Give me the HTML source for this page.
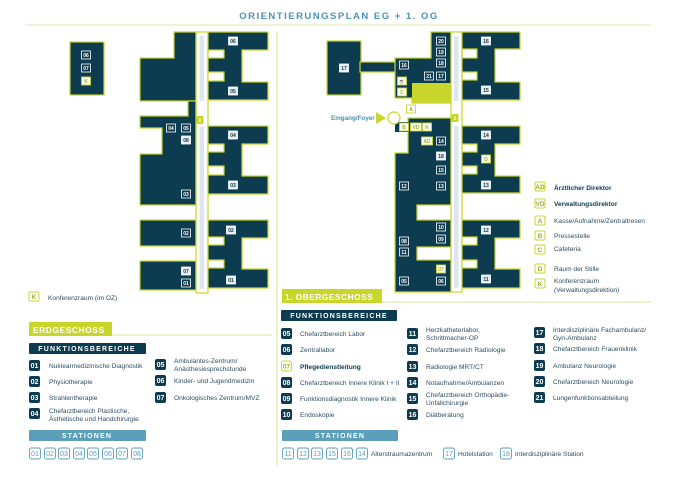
<!DOCTYPE html>
<html><head><meta charset="utf-8"><style>
html,body{margin:0;padding:0;background:#fff}
svg{display:block;font-family:"Liberation Sans",sans-serif}
.d{fill:#0d3b50;stroke:#c8d52b;stroke-width:1.2}
.w{fill:#fff;stroke:#c8d52b;stroke-width:1.2}
.lb rect{fill:none;stroke:#fff;stroke-width:.8}
.lb text{fill:#fff;font-size:5px;text-anchor:middle;font-weight:bold}
.lf rect{fill:#e8eef2;stroke:#fff;stroke-width:.8}
.lf text{fill:#0d3b50;font-size:5px;text-anchor:middle;font-weight:bold}
.ll rect{fill:#fff;stroke:#c8d52b;stroke-width:.9}
.ll text{fill:#9fb020;font-size:5px;text-anchor:middle;font-weight:bold}
.t{fill:#2d4e60;font-size:6.6px}
.b{font-weight:bold;fill:#0d3b50}
.ic rect{fill:#0d3b50}
.ic text{fill:#fff;font-size:7px;font-weight:bold;text-anchor:middle}
.st rect{fill:#fff;stroke:#5b9fbb;stroke-width:.9}
.st text{fill:#5b9fbb;font-size:7px;text-anchor:middle}
.lg rect{fill:#fff;stroke:#c8d52b;stroke-width:1}
.lg text{fill:#9fb020;font-size:6.5px;text-anchor:middle;font-weight:bold}
.hd{fill:#fff;font-size:7px;font-weight:bold;letter-spacing:1.2px;text-anchor:middle}
.hl{stroke:#e3e9a8}
</style></head><body>
<svg width="680" height="481" viewBox="0 0 680 481">
<text x="339" y="19" fill="#4a93b5" font-size="9.5" font-weight="bold" letter-spacing="1.5" text-anchor="middle">ORIENTIERUNGSPLAN EG + 1. OG</text>
<line class="hl" x1="25" y1="25" x2="651" y2="25" stroke-width="1"/>
<line x1="277" y1="31" x2="277" y2="466" stroke="#e3e9a8" stroke-width="1.2"/>

<!-- EG small block -->
<rect class="d" x="70" y="42" width="34" height="53"/>
<g class="lb"><rect x="81.5" y="51" width="9" height="8"/><text x="86" y="57">06</text>
<rect x="81.5" y="64" width="9" height="8"/><text x="86" y="70">07</text></g>
<g class="ll"><rect x="81.5" y="77" width="9" height="8"/><text x="86" y="83">K</text></g>

<!-- EG left building -->
<path class="d" d="M174 32H196V101H140V58H174Z"/>
<path class="d" d="M188 101H196V205H140V154H162V128H140V116H188Z"/>
<rect class="d" x="140" y="220" width="56" height="26"/>
<rect class="d" x="140" y="261" width="56" height="29"/>
<rect x="196" y="32" width="12" height="261" fill="#fff" stroke="#c8d52b" stroke-width="1.2"/>
<rect x="199.5" y="36" width="4.5" height="65" fill="#dde6ee"/>
<rect x="199.5" y="127" width="4.5" height="162" fill="#dde6ee"/>
<rect x="196.5" y="116" width="7" height="8" rx="1" fill="#c8d52b"/><text x="200" y="122" font-size="5" fill="#fff" text-anchor="middle">⇕</text>
<path class="d" d="M208 32H268V50H242V82H268V100H208Z"/>
<rect class="w" x="208" y="50" width="16" height="8"/><rect class="w" x="208" y="72" width="16" height="9"/>
<path class="d" d="M208 126H268V144H242V176H268V194H208Z"/>
<rect class="w" x="208" y="144" width="16" height="8"/><rect class="w" x="208" y="166" width="16" height="9"/>
<path class="d" d="M208 220H268V238H242V269H268V288H208Z"/>
<rect class="w" x="208" y="237" width="16" height="8"/><rect class="w" x="208" y="260" width="16" height="8"/>
<g class="lf"><rect x="228.5" y="37" width="9" height="8"/><text x="233" y="43">06</text>
<rect x="228.5" y="87" width="9" height="8"/><text x="233" y="93">05</text>
<rect x="228.5" y="131" width="9" height="8"/><text x="233" y="137">04</text>
<rect x="228.5" y="181" width="9" height="8"/><text x="233" y="187">03</text>
<rect x="226.5" y="226" width="9" height="8"/><text x="231" y="232">02</text>
<rect x="226.5" y="276" width="9" height="8"/><text x="231" y="282">01</text>
<rect x="181.5" y="136" width="9" height="8"/><text x="186" y="142">08</text>
<rect x="181.5" y="267" width="9" height="8"/><text x="186" y="273">07</text></g>
<g class="lb"><rect x="166.5" y="124" width="9" height="8"/><text x="171" y="130">04</text>
<rect x="181.5" y="124" width="9" height="8"/><text x="186" y="130">05</text>
<rect x="181.5" y="190" width="9" height="8"/><text x="186" y="196">03</text>
<rect x="181.5" y="229" width="9" height="8"/><text x="186" y="235">02</text>
<rect x="181.5" y="279" width="9" height="8"/><text x="186" y="285">01</text></g>

<!-- OG building -->
<rect class="d" x="327" y="41" width="34" height="54"/>
<rect class="d" x="360" y="62" width="36" height="10"/>
<path class="d" d="M431 32H451V103H412V98H395V58H431Z"/>
<rect x="412" y="83" width="39" height="20" fill="#c8d52b"/>
<path class="d" d="M408 118H451V292H395V153H408Z"/>
<rect x="395" y="122" width="14" height="10" fill="#0d3b50"/>
<rect class="w" x="417" y="205" width="35" height="15"/>
<rect class="w" x="417" y="247" width="35" height="13"/>
<circle cx="394" cy="118" r="6" fill="#fff" stroke="#c8d52b" stroke-width="1.2"/>
<polygon points="376,112 386,118 376,124" fill="#c8d52b"/>
<text x="331" y="120" font-size="6.3" fill="#4a93b5" font-weight="bold">Eingang/Foyer</text>
<rect x="451" y="32" width="11" height="260" fill="#fff" stroke="#c8d52b" stroke-width="1.2"/>
<rect x="454" y="36" width="4.5" height="65" fill="#dde6ee"/>
<rect x="454" y="126" width="4.5" height="162" fill="#dde6ee"/>
<rect x="451.5" y="114" width="7" height="8" rx="1" fill="#c8d52b"/><text x="455" y="120" font-size="5" fill="#fff" text-anchor="middle">⇕</text>
<path class="d" d="M462 32H520V49H495V82H520V100H462Z"/>
<rect class="w" x="462" y="49" width="15" height="9"/><rect class="w" x="462" y="72" width="15" height="8"/>
<path class="d" d="M462 126H520V144H495V176H520V193H462Z"/>
<rect class="w" x="462" y="144" width="15" height="8"/><rect class="w" x="462" y="166" width="15" height="8"/>
<path class="d" d="M462 220H520V238H495V269H520V288H462Z"/>
<rect class="w" x="462" y="237" width="15" height="8"/><rect class="w" x="462" y="260" width="15" height="8"/>
<g class="lf"><rect x="339.5" y="64" width="9" height="8"/><text x="344" y="70">17</text>
<rect x="481.5" y="37" width="9" height="8"/><text x="486" y="43">16</text>
<rect x="481.5" y="86" width="9" height="8"/><text x="486" y="92">15</text>
<rect x="481.5" y="131" width="9" height="8"/><text x="486" y="137">14</text>
<rect x="481.5" y="181" width="9" height="8"/><text x="486" y="187">13</text>
<rect x="481.5" y="226" width="9" height="8"/><text x="486" y="232">12</text>
<rect x="481.5" y="275" width="9" height="8"/><text x="486" y="281">11</text>
<rect x="436.5" y="152" width="9" height="8"/><text x="441" y="158">18</text></g>
<g class="lb"><rect x="436.5" y="37" width="9" height="8"/><text x="441" y="43">20</text>
<rect x="436.5" y="48" width="9" height="8"/><text x="441" y="54">19</text>
<rect x="436.5" y="59" width="9" height="8"/><text x="441" y="65">18</text>
<rect x="424.5" y="72" width="9" height="8"/><text x="429" y="78">21</text>
<rect x="436.5" y="72" width="9" height="8"/><text x="441" y="78">17</text>
<rect x="399.5" y="61" width="9" height="8"/><text x="404" y="67">16</text>
<rect x="436.5" y="137" width="9" height="8"/><text x="441" y="143">14</text>
<rect x="436.5" y="166" width="9" height="8"/><text x="441" y="172">15</text>
<rect x="399.5" y="182" width="9" height="8"/><text x="404" y="188">12</text>
<rect x="436.5" y="182" width="9" height="8"/><text x="441" y="188">13</text>
<rect x="436.5" y="223" width="9" height="8"/><text x="441" y="229">10</text>
<rect x="436.5" y="235" width="9" height="8"/><text x="441" y="241">09</text>
<rect x="399.5" y="237" width="9" height="8"/><text x="404" y="243">08</text>
<rect x="399.5" y="248" width="9" height="8"/><text x="404" y="254">11</text>
<rect x="399.5" y="277" width="9" height="8"/><text x="404" y="283">05</text>
<rect x="436.5" y="277" width="9" height="8"/><text x="441" y="283">06</text></g>
<g class="ll"><rect x="397.5" y="77" width="9" height="8"/><text x="402" y="83">☕</text>
<rect x="397.5" y="88" width="9" height="8"/><text x="402" y="94">C</text>
<rect x="406.5" y="105" width="9" height="8"/><text x="411" y="111">A</text>
<rect x="399.5" y="123" width="9" height="8"/><text x="404" y="129">B</text>
<rect x="410.5" y="123" width="11" height="8"/><text x="416" y="129">VD</text>
<rect x="422.5" y="123" width="9" height="8"/><text x="427" y="129">K</text>
<rect x="421.5" y="137" width="11" height="8"/><text x="427" y="143">AD</text>
<rect x="436.5" y="265" width="9" height="8"/><text x="441" y="271">07</text>
<rect x="481.5" y="155" width="9" height="8"/><text x="486" y="161">D</text></g>

<!-- right legend -->
<g class="lg"><rect x="535" y="182" width="10" height="9" rx="1.5"/><text x="540" y="189">AD</text>
<rect x="535" y="199" width="10" height="9" rx="1.5"/><text x="540" y="206">VD</text>
<rect x="535" y="216" width="10" height="9" rx="1.5"/><text x="540" y="223">A</text>
<rect x="535" y="231" width="10" height="9" rx="1.5"/><text x="540" y="238">B</text>
<rect x="535" y="245" width="10" height="9" rx="1.5"/><text x="540" y="252">C</text>
<rect x="535" y="264" width="10" height="9" rx="1.5"/><text x="540" y="271">D</text>
<rect x="535" y="279" width="10" height="9" rx="1.5"/><text x="540" y="286">K</text></g>
<text class="t b" x="554" y="190">Ärztlicher Direktor</text>
<text class="t b" x="554" y="206">Verwaltungsdirektor</text>
<text class="t" x="554" y="223">Kasse/Aufnahme/Zentraltresen</text>
<text class="t" x="554" y="238">Pressestelle</text>
<text class="t" x="554" y="251">Cafeteria</text>
<text class="t" x="554" y="271">Raum der Stille</text>
<text class="t" x="554" y="283">Konferenzraum</text>
<text class="t" x="554" y="292">(Verwaltungsdirektion)</text>

<g class="lg"><rect x="29" y="292" width="10" height="9" rx="1.5"/><text x="34" y="299">K</text></g>
<text class="t" x="48" y="300">Konferenzraum (im OZ)</text>

<!-- EG section -->
<rect x="29" y="322" width="83" height="14" fill="#c8d52b"/>
<text x="33" y="333" fill="#fff" font-size="8.5" font-weight="bold" letter-spacing="0.5">ERDGESCHOSS</text>
<line x1="112" y1="335" x2="272" y2="335" stroke="#e3e9a8" stroke-width="1.2"/>
<rect x="29" y="343" width="117" height="11" rx="1" fill="#0d3b50"/>
<text class="hd" x="87" y="351">FUNKTIONSBEREICHE</text>
<g class="ic"><rect x="29" y="360" width="11" height="11" rx="2"/><text x="34.5" y="368">01</text>
<rect x="29" y="376" width="11" height="11" rx="2"/><text x="34.5" y="384">02</text>
<rect x="29" y="392" width="11" height="11" rx="2"/><text x="34.5" y="400">03</text>
<rect x="29" y="408" width="11" height="11" rx="2"/><text x="34.5" y="416">04</text>
<rect x="155" y="359" width="11" height="11" rx="2"/><text x="160.5" y="367">05</text>
<rect x="155" y="375" width="11" height="11" rx="2"/><text x="160.5" y="383">06</text>
<rect x="155" y="392" width="11" height="11" rx="2"/><text x="160.5" y="400">07</text></g>
<text class="t" x="49" y="368">Nuklearmedizinische Diagnostik</text>
<text class="t" x="49" y="384">Physiotherapie</text>
<text class="t" x="49" y="400">Strahlentherapie</text>
<text class="t" x="49" y="413">Chefarztbereich Plastische,</text>
<text class="t" x="49" y="421">Ästhetische und Handchirurgie</text>
<text class="t" x="174" y="363">Ambulantes-Zentrum/</text>
<text class="t" x="174" y="371">Anästhesiesprechstunde</text>
<text class="t" x="174" y="383">Kinder- und Jugendmedizin</text>
<text class="t" x="174" y="400">Onkologisches Zentrum/MVZ</text>
<rect x="29" y="430" width="117" height="11" rx="1" fill="#5b9fbb"/>
<text class="hd" x="87" y="438">STATIONEN</text>
<g class="st"><rect x="29.5" y="448" width="11" height="11" rx="2"/><text x="35" y="456">01</text>
<rect x="44.5" y="448" width="11" height="11" rx="2"/><text x="50" y="456">02</text>
<rect x="58.5" y="448" width="11" height="11" rx="2"/><text x="64" y="456">03</text>
<rect x="73.5" y="448" width="11" height="11" rx="2"/><text x="79" y="456">04</text>
<rect x="87.5" y="448" width="11" height="11" rx="2"/><text x="93" y="456">05</text>
<rect x="102.5" y="448" width="11" height="11" rx="2"/><text x="108" y="456">06</text>
<rect x="116.5" y="448" width="11" height="11" rx="2"/><text x="122" y="456">07</text>
<rect x="131.5" y="448" width="11" height="11" rx="2"/><text x="137" y="456">08</text></g>

<!-- OG section -->
<rect x="282" y="289" width="100" height="14" fill="#c8d52b"/>
<text x="285" y="300" fill="#fff" font-size="8.5" font-weight="bold" letter-spacing="0.4">1. OBERGESCHOSS</text>
<line x1="382" y1="302" x2="651" y2="302" stroke="#e3e9a8" stroke-width="1.2"/>
<rect x="281" y="310" width="116" height="11" rx="1" fill="#0d3b50"/>
<text class="hd" x="339" y="318">FUNKTIONSBEREICHE</text>
<g class="ic"><rect x="281" y="328" width="11" height="11" rx="2"/><text x="286.5" y="336">05</text>
<rect x="281" y="344" width="11" height="11" rx="2"/><text x="286.5" y="352">06</text>
<rect x="281" y="377" width="11" height="11" rx="2"/><text x="286.5" y="385">08</text>
<rect x="281" y="393" width="11" height="11" rx="2"/><text x="286.5" y="401">09</text>
<rect x="281" y="409" width="11" height="11" rx="2"/><text x="286.5" y="417">10</text>
<rect x="407" y="328" width="11" height="11" rx="2"/><text x="412.5" y="336">11</text>
<rect x="407" y="344" width="11" height="11" rx="2"/><text x="412.5" y="352">12</text>
<rect x="407" y="361" width="11" height="11" rx="2"/><text x="412.5" y="369">13</text>
<rect x="407" y="377" width="11" height="11" rx="2"/><text x="412.5" y="385">14</text>
<rect x="407" y="393" width="11" height="11" rx="2"/><text x="412.5" y="401">15</text>
<rect x="407" y="409" width="11" height="11" rx="2"/><text x="412.5" y="417">16</text>
<rect x="534" y="327" width="11" height="11" rx="2"/><text x="539.5" y="335">17</text>
<rect x="534" y="343" width="11" height="11" rx="2"/><text x="539.5" y="351">18</text>
<rect x="534" y="360" width="11" height="11" rx="2"/><text x="539.5" y="368">19</text>
<rect x="534" y="376" width="11" height="11" rx="2"/><text x="539.5" y="384">20</text>
<rect x="534" y="392" width="11" height="11" rx="2"/><text x="539.5" y="400">21</text></g>
<g class="lg"><rect x="281.5" y="361" width="10" height="10" rx="2"/><text x="286.5" y="368.5">07</text></g>
<text class="t" x="300" y="336">Chefarztbereich Labor</text>
<text class="t" x="300" y="352">Zentrallabor</text>
<text class="t b" x="300" y="369">Pflegedienstleitung</text>
<text class="t" x="300" y="385">Chefarztbereich Innere Klinik I + II</text>
<text class="t" x="300" y="401">Funktionsdiagnostik Innere Klinik</text>
<text class="t" x="300" y="417">Endoskopie</text>
<text class="t" x="426" y="332">Herzkatheterlabor,</text>
<text class="t" x="426" y="340">Schrittmacher-OP</text>
<text class="t" x="426" y="352">Chefarztbereich Radiologie</text>
<text class="t" x="426" y="369">Radiologie MRT/CT</text>
<text class="t" x="426" y="385">Notaufnahme/Ambulanzen</text>
<text class="t" x="426" y="397">Chefarztbereich Orthopädie-</text>
<text class="t" x="426" y="405">Unfallchirurgie</text>
<text class="t" x="426" y="417">Diätberatung</text>
<text class="t" x="553" y="332">Interdisziplinäre Fachambulanz/</text>
<text class="t" x="553" y="340">Gyn-Ambulanz</text>
<text class="t" x="553" y="351">Chefarztbereich Frauenklinik</text>
<text class="t" x="553" y="368">Ambulanz Neurologie</text>
<text class="t" x="553" y="384">Chefarztbereich Neurologie</text>
<text class="t" x="553" y="400">Lungenfunktionsabteilung</text>
<rect x="282" y="430" width="116" height="11" rx="1" fill="#5b9fbb"/>
<text class="hd" x="340" y="438">STATIONEN</text>
<g class="st"><rect x="282.5" y="448" width="11" height="11" rx="2"/><text x="288" y="456">11</text>
<rect x="297.5" y="448" width="11" height="11" rx="2"/><text x="303" y="456">12</text>
<rect x="311.5" y="448" width="11" height="11" rx="2"/><text x="317" y="456">13</text>
<rect x="326.5" y="448" width="11" height="11" rx="2"/><text x="332" y="456">15</text>
<rect x="341.5" y="448" width="11" height="11" rx="2"/><text x="347" y="456">16</text>
<rect x="356.5" y="448" width="11" height="11" rx="2"/><text x="362" y="456">14</text>
<rect x="443.5" y="448" width="11" height="11" rx="2"/><text x="449" y="456">17</text>
<rect x="500.5" y="448" width="11" height="11" rx="2"/><text x="506" y="456">18</text></g>
<text class="t" x="371" y="456">Alterstraumazentrum</text>
<text class="t" x="458" y="456">Hotelstation</text>
<text class="t" x="515" y="456">Interdisziplinäre Station</text>
</svg>
</body></html>
